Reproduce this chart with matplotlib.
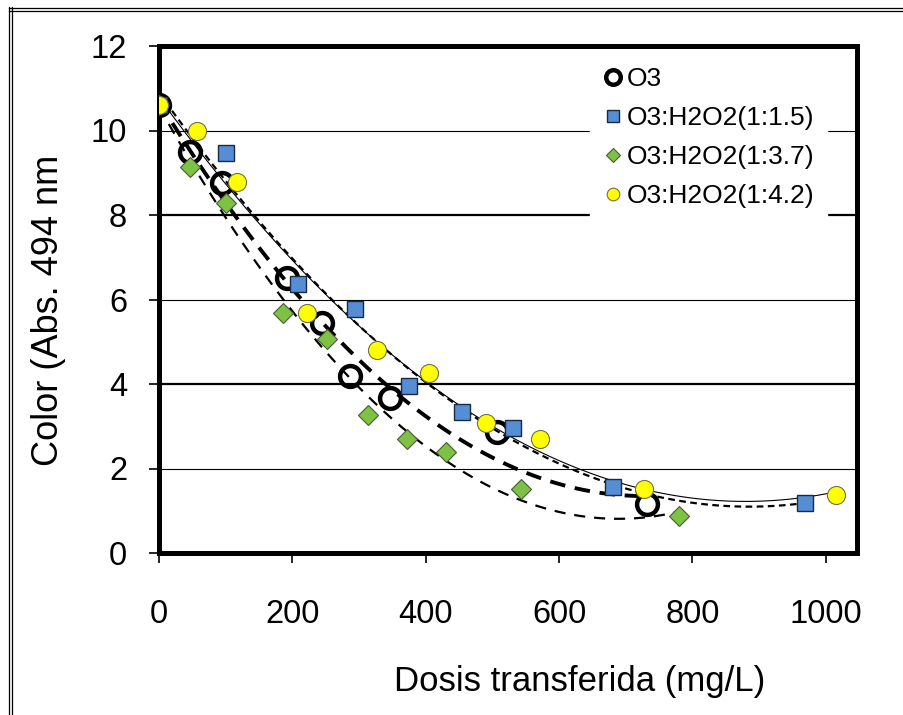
import matplotlib
matplotlib.use('Agg')
import matplotlib.pyplot as plt
from matplotlib.lines import Line2D
import numpy as np

plt.rcParams['font.family'] = ['Liberation Sans', 'DejaVu Sans']

# Valores
dosis_o3 = [0, 47, 95, 192, 245, 287, 347, 507, 732]
color_o3 = [10.6, 9.5, 8.75, 6.5, 5.45, 4.19, 3.66, 2.87, 1.16]

dosis_15 = [0, 101, 208, 294, 375, 455, 531, 681, 969]
color_15 = [10.6, 9.47, 6.37, 5.77, 3.95, 3.34, 2.97, 1.57, 1.18]

dosis_37 = [0, 47, 100, 186, 252, 313, 372, 430, 543, 780]
color_37 = [10.6, 9.14, 8.29, 5.69, 5.06, 3.27, 2.69, 2.40, 1.51, 0.88]

dosis_42 = [0, 57, 117, 222, 327, 405, 490, 571, 728, 1015]
color_42 = [10.6, 10.0, 8.79, 5.69, 4.80, 4.27, 3.08, 2.69, 1.51, 1.37]

etiquetas = ['O3', 'O3:H2O2(1:1.5)', 'O3:H2O2(1:3.7)', 'O3:H2O2(1:4.2)']

fig = plt.figure(figsize=(9.04, 7.15), dpi=100)
ax = fig.add_axes([159/904, 1-553/715, 698/904, 507/715])

# Líneas de tendencia (polinómicas de orden 2, como en Excel)
def tendencia(x, y, **kw):
    c = np.polyfit(x, y, 2)
    xx = np.linspace(min(x), max(x), 300)
    ax.plot(xx, np.polyval(c, xx), color='black', zorder=2, **kw)

tendencia(dosis_o3, color_o3, lw=2.8, ls=(0, (4, 2.5)))
tendencia(dosis_15, color_15, lw=1.6, ls=(0, (3, 2)))
tendencia(dosis_37, color_37, lw=1.6, ls=(0, (5, 4)))
tendencia(dosis_42, color_42, lw=0.8, ls='-')

# Puntos
ax.plot(dosis_o3, color_o3, 'o', ms=15, mfc='none', mec='black', mew=3.2,
        label=etiquetas[0], zorder=3)
ax.plot(dosis_15, color_15, 's', ms=12, mfc='#558ED5', mec='#1a2a40', mew=1.0,
        label=etiquetas[1], zorder=3)
ax.plot(dosis_37, color_37, 'D', ms=10, mfc='#7DC242', mec='#4a5a3a', mew=0.8,
        label=etiquetas[2], zorder=3)
ax.plot(dosis_42, color_42, 'o', ms=13, mfc='#FFFF00', mec='#707040', mew=0.8,
        label=etiquetas[3], zorder=3)

ax.set_xlim(0, 1047)
ax.set_ylim(0, 12)
ax.set_xticks(np.arange(0, 1001, 200))
ax.set_yticks(np.arange(0, 13, 2))

# Malla horizontal
ax.yaxis.grid(True, color='black', lw=0.8)
for i, gl in enumerate(ax.get_ygridlines()):
    if i in (2, 4):
        gl.set_linewidth(1.6)
ax.set_axisbelow(True)

for s in ax.spines.values():
    s.set_linewidth(3.6)

ax.tick_params(axis='both', direction='out', length=7, width=1.2, labelsize=23.5)
ax.tick_params(axis='y', pad=16)
ax.tick_params(axis='x', pad=26)

ax.set_xlabel('Dosis transferida (mg/L)', fontsize=25)
ax.xaxis.set_label_coords(0.603, -0.221)
ax.set_ylabel('Color (Abs. 494 nm', fontsize=26)
ax.yaxis.set_label_coords(-0.133, 0.479)

leg = ax.legend(loc='upper left', bbox_to_anchor=(0.617, 0.985), fontsize=19,
                frameon=True, fancybox=False, framealpha=1, edgecolor='white',
                markerscale=0.7, handlelength=0.8, handletextpad=0.1,
                labelspacing=0.57, borderpad=0.5, borderaxespad=0)
leg.set_zorder(5)

# Marco exterior (doble línea)
for px in (9, 12):
    fig.add_artist(Line2D([px/904, px/904], [0, 1-7/715], transform=fig.transFigure,
                          color='black', lw=0.9))
for py in (7.5, 10.5):
    fig.add_artist(Line2D([9/904, 1], [1-py/715, 1-py/715], transform=fig.transFigure,
                          color='black', lw=0.9))

fig.savefig('out.png', dpi=100)
